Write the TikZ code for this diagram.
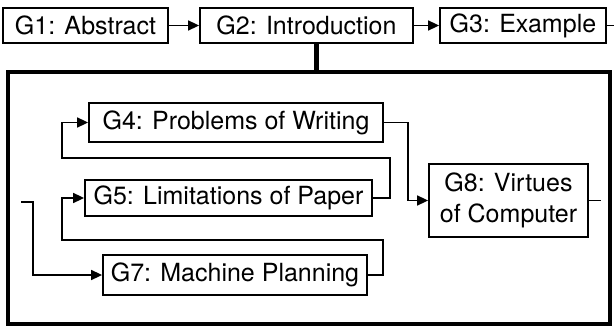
\documentclass[tikz,border=0pt]{standalone}
\usepackage{fontspec}
\setmainfont{TeX Gyre Heros}
\usetikzlibrary{positioning,arrows.meta}

\begin{document}
\begin{tikzpicture}[
    x=1pt, y=-1pt,
    goal/.style={rectangle, draw, line width=1.8pt, align=center, inner sep=2pt, minimum height=35pt, font=\fontsize{25}{31}\selectfont},
    grpbox/.style={rectangle, draw, line width=4.5pt, minimum width=602pt, minimum height=252pt},
    link/.style={line width=1.6pt},
    arr/.style={-{Triangle[length=11pt, width=10pt]}, line width=1.6pt},
    heavy/.style={line width=4.5pt}
]
\useasboundingbox (0,0) rectangle (614,329);

% top row
\node[goal, minimum width=165pt] (g1) at (85.5,25.5) {G1: Abstract};
\node[goal, minimum width=213pt] (g2) at (306.5,25.5) {G2: Introduction};
\node[goal, minimum width=166pt] (g3) at (523,25.5) {G3: Example};
\coordinate (outR) at (614,25.5);

% group of sub-goals
\node[grpbox] (grp) at (309,198) {};
\node[goal, minimum width=294pt, minimum height=39pt] (g4) at (236,122.5) {G4: Problems of Writing};
\node[goal, minimum width=287pt, minimum height=36pt] (g5) at (228.5,198) {G5: Limitations of Paper};
\node[goal, minimum width=264pt, minimum height=40pt] (g7) at (235,275) {G7: Machine Planning};
\node[goal, minimum width=159pt, minimum height=73pt] (g8) at (508.5,200.5) {G8: Virtues\\of Computer};
\coordinate (inL) at (21,202);
\coordinate (outG8) at (601,200.5);

\draw[arr] (g1) -- (g2);
\draw[arr] (g2) -- (g3);
\draw[link] (g3.east) -- (outR);
\draw[heavy] ([xshift=10pt]g2.south) -- ([xshift=10pt]g2.south |- grp.north);

\draw[arr] (g4.east) -- ++(24,0) |- (g8.west);
\draw[arr] (g5.east) -- ++(17,0) |- ++(-328,-40) |- (g4.west);
\draw[arr] (g7.east) -- ++(15,0) |- ++(-321,-35) |- (g5.west);
\draw[arr] (inL) -- ++(12,0) |- (g7.west);
\draw[link] (g8.east) -- (outG8);

\end{tikzpicture}
\end{document}
